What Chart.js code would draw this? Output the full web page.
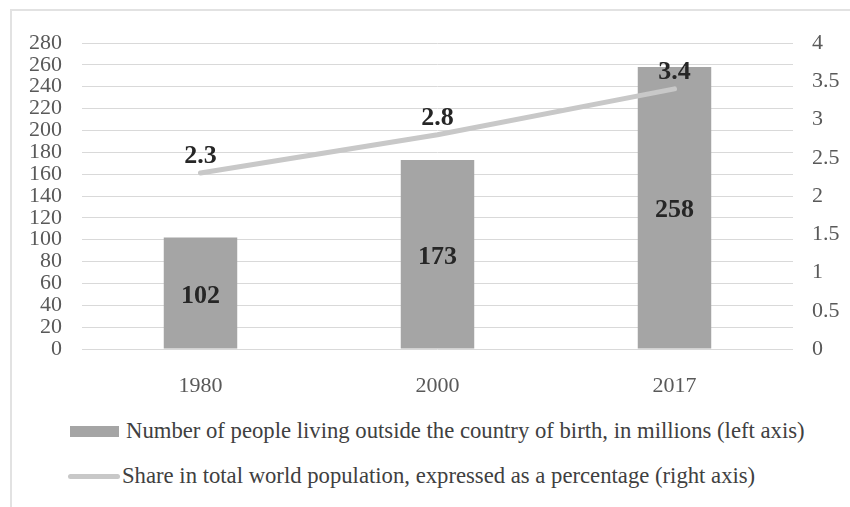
<!DOCTYPE html>
<html>
<head>
<meta charset="utf-8">
<script src="https://cdn.jsdelivr.net/npm/chart.js@4/dist/chart.umd.min.js"></script>
<style>
  html, body { margin: 0; padding: 0; background: #fff; overflow: hidden; }
  #page { position: relative; width: 850px; height: 507px; }
  #frame { position: absolute; left: 10px; top: 9px; width: 860px; height: 520px; border: 2px solid #e2e2e2; box-sizing: border-box; }
  #chart { position: absolute; left: 0; top: 0; }
  .legend-item { position: absolute; font-family: "Liberation Serif", "Times New Roman", serif; font-size: 22.7px; color: #404040; white-space: nowrap; transform: translateY(-50%); line-height: 1; }
  .swatch-bar { position: absolute; left: 70px; top: 426px; width: 49px; height: 11px; background: #a5a5a5; }
  .swatch-line { position: absolute; left: 68px; top: 474px; width: 52px; height: 5px; border-radius: 3px; background: #c8c8c8; }
</style>
</head>
<body>
<div id="page">
  <div id="frame"></div>
  <canvas id="chart" width="850" height="400"></canvas>
  <div class="swatch-bar"></div>
  <div class="legend-item" style="left:126px; top:431px;" id="legendBar"></div>
  <div class="swatch-line"></div>
  <div class="legend-item" style="left:122px; top:476px;" id="legendLine"></div>
</div>
<script>
const years = ['1980', '2000', '2017'];
const migrants = [102, 173, 258];
const shares = [2.3, 2.8, 3.4];
const barLabel = 'Number of people living outside the country of birth, in millions (left axis)';
const lineLabel = 'Share in total world population, expressed as a percentage (right axis)';

const serif = '"Liberation Serif", "Times New Roman", serif';
const tickFont = { family: serif, size: 22 };

document.getElementById('legendBar').textContent = barLabel;
document.getElementById('legendLine').textContent = lineLabel;

// bold value labels: centered in bars, above line points
const valueLabels = {
    id: 'valueLabels',
    afterDatasetsDraw(chart) {
        const ctx = chart.ctx;
        ctx.save();
        ctx.font = 'bold 26px ' + serif;
        ctx.fillStyle = '#262626';
        ctx.textAlign = 'center';
        ctx.textBaseline = 'middle';
        chart.data.datasets.forEach((ds, i) => {
            const meta = chart.getDatasetMeta(i);
            meta.data.forEach((el, j) => {
                const v = ds.data[j];
                if (meta.type === 'bar') {
                    ctx.fillText(String(v), el.x, (el.y + el.base) / 2 + 3);
                } else {
                    ctx.fillText(v.toFixed(1), el.x, el.y - 17);
                }
            });
        });
        ctx.restore();
    }
};

new Chart(document.getElementById('chart'), {
    data: {
        labels: years,
        datasets: [
            {
                type: 'line',
                label: lineLabel,
                data: shares,
                yAxisID: 'yRight',
                borderColor: '#c8c8c8',
                borderWidth: 5,
                borderCapStyle: 'round',
                pointRadius: 0,
                tension: 0,
                order: 0
            },
            {
                type: 'bar',
                label: barLabel,
                data: migrants,
                yAxisID: 'yLeft',
                backgroundColor: '#a5a5a5',
                barPercentage: 0.62,
                categoryPercentage: 0.5,
                order: 1
            }
        ]
    },
    options: {
        responsive: false,
        animation: false,
        layout: { padding: { top: 43, left: 0, right: 0, bottom: 0 } },
        plugins: {
            legend: { display: false },
            tooltip: { enabled: false }
        },
        scales: {
            x: {
                grid: { display: false },
                border: { display: false },
                ticks: { color: '#595959', font: tickFont, padding: 16 },
                afterFit(scale) { scale.height = 51; }
            },
            yLeft: {
                position: 'left',
                min: 0,
                max: 280,
                ticks: { stepSize: 20, autoSkip: false, color: '#595959', font: tickFont, padding: 20 },
                grid: { color: '#d9d9d9', lineWidth: 1, drawTicks: false },
                border: { display: false },
                afterFit(scale) { scale.width = 82; }
            },
            yRight: {
                position: 'right',
                min: 0,
                max: 4,
                ticks: {
                    stepSize: 0.5,
                    autoSkip: false,
                    color: '#595959',
                    font: tickFont,
                    padding: 19,
                    callback: (v) => String(v)
                },
                grid: { display: false, drawTicks: false },
                border: { display: false },
                afterFit(scale) { scale.width = 57; }
            }
        }
    },
    plugins: [valueLabels]
});
</script>
</body>
</html>
